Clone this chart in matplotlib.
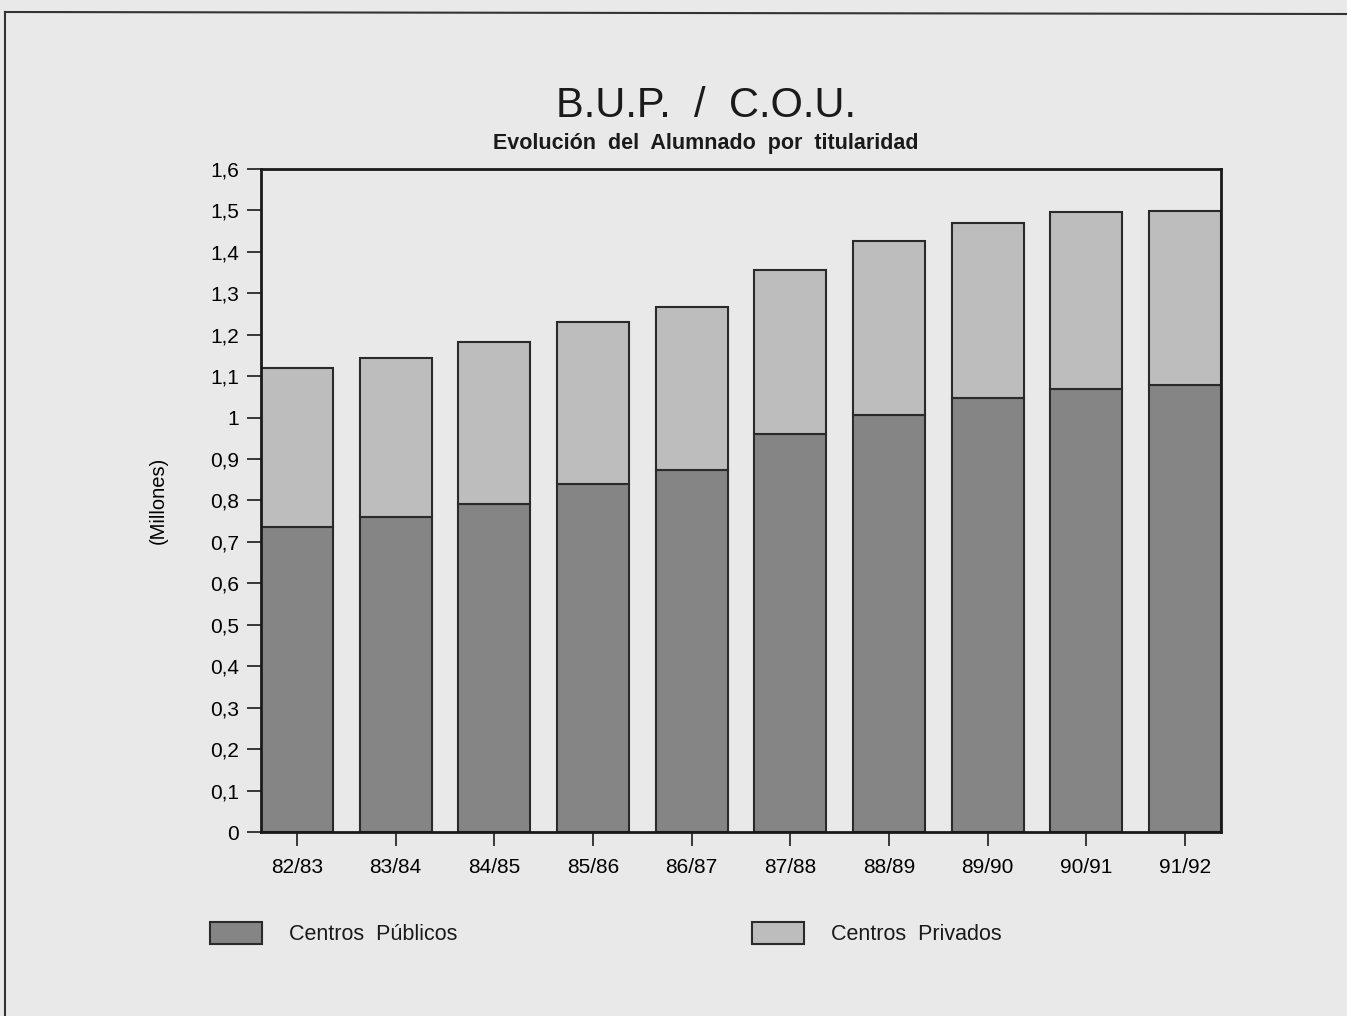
import matplotlib
matplotlib.use("Agg")
import matplotlib.pyplot as plt
from matplotlib.lines import Line2D
from matplotlib.patches import Rectangle
import numpy as np

plt.rcParams['font.family'] = ['Liberation Sans', 'DejaVu Sans']

cursos = ["82/83", "83/84", "84/85", "85/86", "86/87", "87/88", "88/89", "89/90", "90/91", "91/92"]
publicos = [0.736, 0.760, 0.791, 0.840, 0.874, 0.960, 1.006, 1.047, 1.069, 1.079]
totales = [1.120, 1.144, 1.182, 1.231, 1.267, 1.356, 1.426, 1.470, 1.496, 1.499]
privados = [t - p for t, p in zip(totales, publicos)]
yticks = [0, 0.1, 0.2, 0.3, 0.4, 0.5, 0.6, 0.7, 0.8, 0.9, 1.0, 1.1, 1.2, 1.3, 1.4, 1.5, 1.6]
ytick_labels = ["0", "0,1", "0,2", "0,3", "0,4", "0,5", "0,6", "0,7", "0,8", "0,9", "1",
                "1,1", "1,2", "1,3", "1,4", "1,5", "1,6"]

dark = "#858585"
light = "#bdbdbd"
edge = "#2a2a2a"
bg = "#e9e9e9"

fig = plt.figure(figsize=(13.47, 10.16), dpi=100, facecolor=bg)
ax = fig.add_axes([0.1938, 0.1811, 0.7127, 0.6526])
ax.set_facecolor(bg)

x = np.arange(len(cursos))
w = 0.73
ax.bar(x, publicos, width=w, color=dark, edgecolor=edge, linewidth=1.5)
ax.bar(x, privados, width=w, bottom=publicos, color=light, edgecolor=edge, linewidth=1.5)

ax.set_xlim(-w / 2, len(cursos) - 1 + w / 2)
ax.set_ylim(0, 1.6)
ax.set_yticks(yticks)
ax.set_yticklabels(ytick_labels, fontsize=15)
ax.set_xticks(x)
ax.set_xticklabels(cursos, fontsize=15)
ax.tick_params(axis='both', direction='out', length=10, width=1.3, color=edge)
ax.tick_params(axis='x', pad=9)
ax.tick_params(axis='y', pad=6)
for s in ax.spines.values():
    s.set_linewidth(2)
    s.set_color("#1a1a1a")

ax.set_ylabel("(Millones)", fontsize=14.5, labelpad=30)

fig.text(0.524, 0.896, "B.U.P.  /  C.O.U.", ha='center', va='center', fontsize=30, color="#1a1a1a")
fig.text(0.524, 0.859, "Evolución  del  Alumnado  por  titularidad", ha='center', va='center',
         fontsize=15.5, fontweight='bold', color="#1a1a1a")

# legend
fig.patches.append(Rectangle((210 / 1347, 1 - 944 / 1016), 52 / 1347, 22 / 1016,
                             transform=fig.transFigure, facecolor=dark, edgecolor=edge, linewidth=1.5))
fig.patches.append(Rectangle((752 / 1347, 1 - 944 / 1016), 52 / 1347, 22 / 1016,
                             transform=fig.transFigure, facecolor=light, edgecolor=edge, linewidth=1.5))
fig.text(289 / 1347, 1 - 934 / 1016, "Centros  Públicos", ha='left', va='center', fontsize=15.5, color="#1a1a1a")
fig.text(831 / 1347, 1 - 934 / 1016, "Centros  Privados", ha='left', va='center', fontsize=15.5, color="#1a1a1a")

# outer frame
fig.add_artist(Line2D([5 / 1347, 1.0], [1 - 12 / 1016, 1 - 14 / 1016], transform=fig.transFigure,
                      color="#333333", linewidth=1.5))
fig.add_artist(Line2D([5 / 1347, 5 / 1347], [1 - 12 / 1016, 0.0], transform=fig.transFigure,
                      color="#333333", linewidth=1.5))

fig.savefig("out.png", dpi=100, facecolor=bg)
